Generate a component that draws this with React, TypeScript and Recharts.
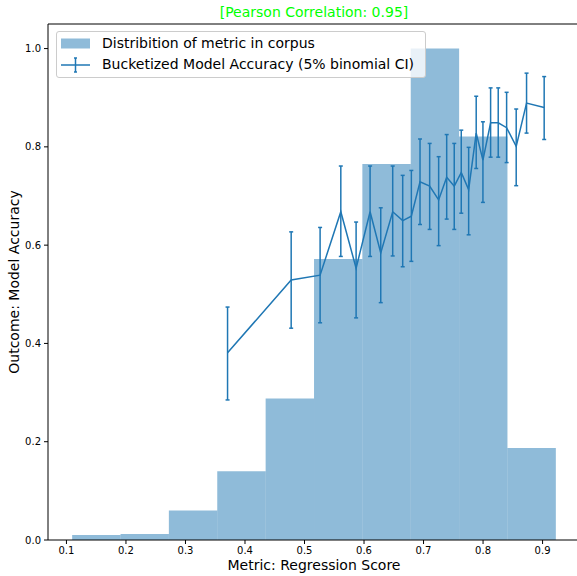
import React from "react";
import {
  ComposedChart,
  Line,
  ErrorBar,
  XAxis,
  YAxis,
  ReferenceArea,
  ReferenceLine,
} from "recharts";

// histogram of metric values (bin edges + normalized heights)
const binEdges = [0.1096, 0.1909, 0.2721, 0.3534, 0.4347, 0.516, 0.5972, 0.6785, 0.7598, 0.841, 0.9223];
const binHeights = [0.01, 0.012, 0.06, 0.14, 0.288, 0.572, 0.765, 1.0, 0.821, 0.187];

// bucketized accuracy with CI bounds
const bucketX = [
  0.3707, 0.4776, 0.5262, 0.561, 0.5867, 0.6102, 0.6281, 0.6482, 0.665, 0.6795, 0.6941, 0.7103, 0.7254,
  0.7389, 0.7516, 0.7634, 0.7758, 0.7885, 0.7998, 0.8127, 0.8255, 0.8396, 0.8557, 0.8731, 0.9027,
];
const accuracy = [
  0.381, 0.529, 0.539, 0.668, 0.553, 0.668, 0.584, 0.668, 0.65, 0.659, 0.729, 0.72, 0.692, 0.738, 0.72,
  0.748, 0.713, 0.828, 0.773, 0.849, 0.849, 0.839, 0.801, 0.889, 0.88,
];
const ciLow = [
  0.285, 0.431, 0.442, 0.577, 0.452, 0.577, 0.483, 0.578, 0.556, 0.567, 0.642, 0.632, 0.599, 0.653, 0.632,
  0.665, 0.621, 0.756, 0.687, 0.779, 0.779, 0.768, 0.721, 0.828, 0.815,
];
const ciHigh = [
  0.474, 0.627, 0.636, 0.761, 0.647, 0.761, 0.676, 0.761, 0.742, 0.752, 0.816, 0.807, 0.78, 0.825, 0.807,
  0.834, 0.799, 0.903, 0.851, 0.92, 0.92, 0.911, 0.877, 0.95, 0.943,
];

const xTicks = [0.1, 0.2, 0.3, 0.4, 0.5, 0.6, 0.7, 0.8, 0.9];
const yTicks = [0, 0.2, 0.4, 0.6, 0.8, 1.0];
const Y_MAX = 1.05;

const BLUE = "#1f77b4";
const FONT = "DejaVu Sans, sans-serif";

const data = bucketX.map((x, i) => ({
  x,
  acc: accuracy[i],
  err: [accuracy[i] - ciLow[i], ciHigh[i] - accuracy[i]],
}));

function LegendBox() {
  return (
    <div
      style={{
        position: "absolute",
        left: 56,
        top: 31,
        width: 368,
        height: 45,
        border: "1px solid #cccccc",
        borderRadius: 3,
        background: "rgba(255,255,255,0.8)",
        fontFamily: FONT,
        fontSize: 14,
        color: "#000",
      }}
    >
      <svg width={40} height={45} style={{ position: "absolute", left: 0, top: 0 }}>
        <rect x={4} y={6.5} width={29} height={10} fill={BLUE} fillOpacity={0.5} />
        <line x1={4} x2={33} y1={33} y2={33} stroke={BLUE} strokeWidth={1.5} />
        <line x1={18.5} x2={18.5} y1={26} y2={40} stroke={BLUE} strokeWidth={1.5} />
        <line x1={17} x2={20} y1={26} y2={26} stroke={BLUE} strokeWidth={1.5} />
        <line x1={17} x2={20} y1={40} y2={40} stroke={BLUE} strokeWidth={1.5} />
      </svg>
      <div style={{ position: "absolute", left: 45, top: 3, whiteSpace: "nowrap" }}>
        Distribition of metric in corpus
      </div>
      <div style={{ position: "absolute", left: 45, top: 24, whiteSpace: "nowrap" }}>
        Bucketized Model Accuracy (5% binomial CI)
      </div>
    </div>
  );
}

export default function App() {
  return (
    <div
      style={{
        position: "absolute",
        left: 0,
        top: 0,
        width: 577,
        height: 576,
        overflow: "hidden",
        background: "#fff",
        fontFamily: FONT,
      }}
    >
      <ComposedChart
        width={600}
        height={576}
        data={data}
        margin={{ top: 24, right: 20, bottom: 5, left: 0 }}
        style={{ fontFamily: FONT }}
      >
        <XAxis
          dataKey="x"
          type="number"
          domain={[0.069, 0.9629]}
          ticks={xTicks}
          tickFormatter={(v) => v.toFixed(1)}
          allowDataOverflow
          height={31}
          tickSize={4}
          tickMargin={3}
          stroke="#000"
          tick={{ fill: "#000", fontSize: 10 }}
        />
        <YAxis
          type="number"
          domain={[0, Y_MAX]}
          ticks={yTicks}
          tickFormatter={(v) => v.toFixed(1)}
          allowDataOverflow
          width={48}
          tickSize={4}
          tickMargin={3}
          stroke="#000"
          tick={{ fill: "#000", fontSize: 10 }}
        />
        {binHeights.map((h, i) => (
          <ReferenceArea
            key={i}
            x1={binEdges[i]}
            x2={binEdges[i + 1]}
            y1={0}
            y2={h}
            fill={BLUE}
            fillOpacity={0.5}
            stroke="none"
          />
        ))}
        {/* top spine */}
        <ReferenceLine y={Y_MAX} stroke="#000" strokeWidth={1} ifOverflow="visible" />
        <Line
          dataKey="acc"
          type="linear"
          stroke={BLUE}
          strokeWidth={1.5}
          dot={false}
          activeDot={false}
          isAnimationActive={false}
        >
          <ErrorBar dataKey="err" direction="y" width={2} stroke={BLUE} strokeWidth={1.5} />
        </Line>
      </ComposedChart>
      <LegendBox />
      <div
        style={{
          position: "absolute",
          left: 214,
          width: 200,
          top: 4,
          textAlign: "center",
          color: "#00ff00",
          fontSize: 14,
          whiteSpace: "nowrap",
        }}
      >
        [Pearson Correlation: 0.95]
      </div>
      <div
        style={{
          position: "absolute",
          left: 214,
          width: 200,
          top: 557,
          textAlign: "center",
          color: "#000",
          fontSize: 14,
          whiteSpace: "nowrap",
        }}
      >
        Metric: Regression Score
      </div>
      <div
        style={{
          position: "absolute",
          left: 15 - 100,
          top: 282 - 9,
          width: 200,
          height: 18,
          textAlign: "center",
          color: "#000",
          fontSize: 14,
          whiteSpace: "nowrap",
          transform: "rotate(-90deg)",
        }}
      >
        Outcome: Model Accuracy
      </div>
    </div>
  );
}
